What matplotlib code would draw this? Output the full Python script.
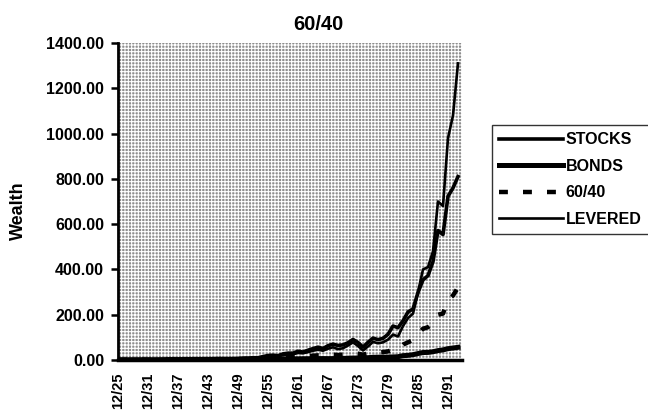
import matplotlib
matplotlib.use("Agg")
import matplotlib.pyplot as plt
from matplotlib.patches import Rectangle

plt.rcParams['font.family'] = ['Liberation Sans', 'DejaVu Sans']
plt.rcParams['hatch.linewidth'] = 0.8
plt.rcParams['hatch.color'] = 'white'

title = "60/40"
ylabel = "Wealth"
years = list(range(1925, 1994))
tick_labels = ["12/25", "12/31", "12/37", "12/43", "12/49", "12/55",
               "12/61", "12/67", "12/73", "12/79", "12/85", "12/91"]
y_ticks = [0, 200, 400, 600, 800, 1000, 1200, 1400]

stocks = [1.00, 1.12, 1.53, 2.20, 2.02, 1.52, 0.86, 0.79, 1.21, 1.20,
          1.90, 2.54, 1.65, 2.16, 2.15, 1.94, 1.71, 2.06, 2.59, 3.10,
          4.23, 3.89, 4.11, 4.34, 5.16, 6.80, 8.43, 9.98, 9.88, 15.08,
          19.84, 21.14, 18.86, 27.04, 30.27, 30.41, 38.58, 35.21, 43.24, 50.36,
          56.62, 50.92, 63.13, 70.11, 64.15, 66.71, 76.25, 90.71, 77.40, 56.92,
          78.10, 96.72, 89.78, 95.68, 113.33, 150.06, 142.69, 173.25, 212.26, 225.60,
          298.19, 353.93, 372.47, 434.34, 571.82, 553.98, 722.75, 760.00, 810.00]

bonds = [1.00, 1.10, 1.20, 1.22, 1.28, 1.35, 1.30, 1.50, 1.55, 1.72,
         1.85, 2.00, 2.02, 2.15, 2.30, 2.45, 2.50, 2.60, 2.70, 2.80,
         3.10, 3.15, 3.15, 3.30, 3.55, 3.65, 3.60, 3.70, 3.90, 4.20,
         4.25, 4.10, 4.45, 4.35, 4.35, 4.90, 5.05, 5.45, 5.60, 5.90,
         6.00, 6.30, 6.00, 6.20, 6.00, 6.90, 7.90, 8.50, 8.60, 9.10,
         10.20, 12.00, 12.30, 12.50, 12.80, 13.50, 14.50, 19.00, 20.50, 23.50,
         28.50, 33.00, 33.50, 36.50, 41.50, 44.50, 50.00, 53.00, 56.00]

sixty_forty = [1.00, 1.10, 1.35, 1.60, 1.60, 1.40, 1.05, 1.10, 1.40, 1.50,
               1.95, 2.30, 1.85, 2.20, 2.30, 2.25, 2.15, 2.40, 2.75, 3.10,
               3.80, 3.65, 3.75, 3.90, 4.35, 5.10, 5.70, 6.30, 6.40, 8.30,
               9.50, 9.70, 9.50, 11.50, 12.00, 13.00, 15.00, 15.00, 17.00, 19.00,
               20.50, 20.00, 22.50, 24.00, 22.00, 24.00, 27.00, 30.50, 28.00, 23.50,
               29.00, 35.00, 34.00, 35.00, 38.00, 46.00, 47.00, 68.00, 78.00, 88.00,
               115.00, 138.00, 145.00, 162.00, 200.00, 205.00, 265.00, 285.00, 320.00]

levered = [1.00, 1.10, 1.50, 2.30, 1.90, 1.20, 0.50, 0.40, 0.70, 0.70,
           1.20, 1.70, 1.00, 1.40, 1.40, 1.30, 1.10, 1.40, 1.80, 2.20,
           3.00, 2.70, 2.80, 3.00, 4.00, 5.50, 6.80, 8.00, 8.20, 12.50,
           16.00, 16.50, 15.50, 21.50, 23.00, 25.00, 31.00, 29.50, 35.00, 41.00,
           45.00, 41.00, 50.00, 56.00, 48.00, 52.00, 64.00, 78.00, 62.00, 42.00,
           60.00, 80.00, 74.00, 78.00, 90.00, 112.00, 104.00, 150.00, 185.00, 205.00,
           300.00, 400.00, 410.00, 480.00, 700.00, 680.00, 980.00, 1080.00, 1310.00]

W, H = 648, 413
fig = plt.figure(figsize=(W / 100, H / 100), dpi=100)
ax = fig.add_axes([118 / W, 1 - 360 / H, (462 - 118) / W, (360 - 43) / H])

bg = Rectangle((0, 0), 1, 1, transform=ax.transAxes, facecolor='#8e8e8e',
               hatch='+++++', edgecolor='white', lw=0, zorder=0)
ax.add_patch(bg)
ax.set_facecolor('none')

x = list(range(len(years)))
ax.plot(x, stocks, color='black', lw=2.6, label='STOCKS', zorder=3)
ax.plot(x, bonds, color='black', lw=3.6, label='BONDS', zorder=3)
ax.plot(x, sixty_forty, color='black', lw=3.2, dashes=(2.0, 3.4),
        label='60/40', zorder=3)
ax.plot(x, levered, color='black', lw=1.9, label='LEVERED', zorder=3)

ax.set_xlim(0, 68.8)
ax.set_ylim(0, 1400)
tick_pos = [years.index(1900 + int(t.split('/')[1])) for t in tick_labels]
ax.set_xticks(tick_pos)
ax.set_xticklabels(tick_labels, rotation=90, fontsize=10.5, fontweight='bold')
ax.tick_params(axis='x', length=0, pad=9)
ax.set_yticks(y_ticks)
ax.set_yticklabels([f"{v:.2f}" for v in y_ticks], fontsize=11.5, fontweight='bold')
ax.tick_params(axis='y', length=5, width=1.8, pad=5, direction='out')

for s in ['top', 'right']:
    ax.spines[s].set_visible(False)
ax.spines['left'].set_linewidth(2.0)
ax.spines['bottom'].set_linewidth(2.5)
ax.spines['left'].set_zorder(4)
ax.spines['bottom'].set_zorder(4)

ax.set_ylabel(ylabel, fontsize=13, fontweight='bold')
ax.yaxis.set_label_coords(-0.265, 0.47)

fig.text(318 / W, 1 - 24 / H, title, ha='center', va='center',
         fontsize=14.5, fontweight='bold')

leg = fig.legend(loc='upper left', bbox_to_anchor=(492 / W, 1 - 125 / H),
                 frameon=True, fancybox=False, edgecolor='black',
                 prop={'weight': 'bold', 'size': 11.5},
                 handlelength=4.0, handletextpad=0.15, labelspacing=0.72,
                 borderpad=0.45, borderaxespad=0)
leg.get_frame().set_linewidth(1.0)

fig.savefig("out.png", dpi=100)
